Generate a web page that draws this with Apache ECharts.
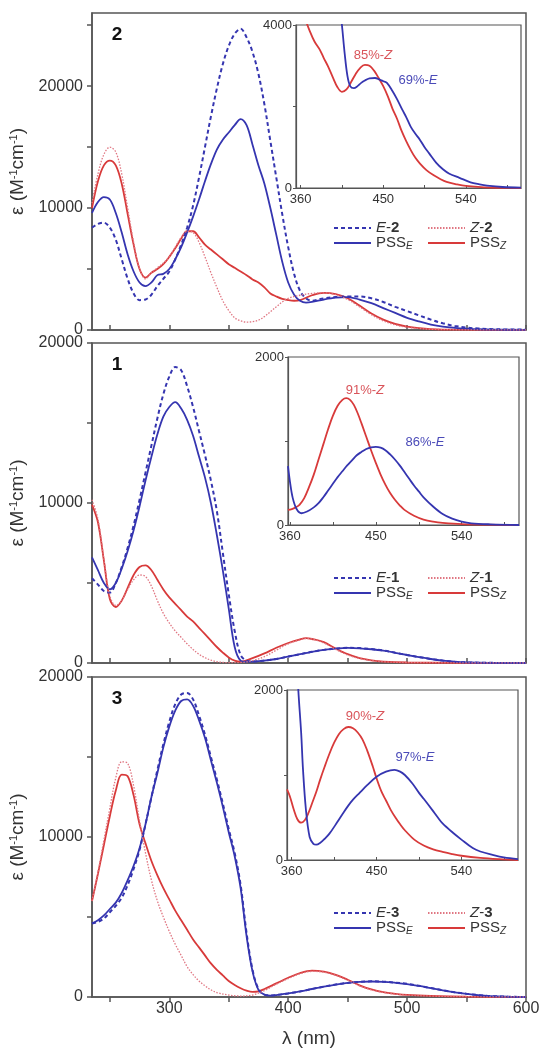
<!DOCTYPE html>
<html>
<head>
<meta charset="utf-8">
<script src="https://cdn.jsdelivr.net/npm/echarts@6/dist/echarts.min.js"></script>
<style>
html, body { margin: 0; padding: 0; background: #fff; }
#chart { width: 539px; height: 1051px; }
</style>
</head>
<body>
<div id="chart"></div>
<script>
// ---- data: [wavelength (nm), epsilon (M-1 cm-1)] ----

// compound 2 (top panel)
const e2 = [[235, 8400], [240, 8700], [245, 8800], [250, 8400], [255, 7400], [260, 5800], [265, 4200], [270, 3000], [275, 2450], [280, 2500], [285, 2900], [290, 3600], [295, 4200], [300, 4800], [305, 5800], [310, 7000], [315, 8400], [320, 10200], [325, 12500], [330, 15000], [335, 17500], [340, 19800], [345, 21800], [350, 23300], [355, 24300], [360, 24700], [365, 24000], [370, 22800], [375, 21000], [380, 18500], [385, 15500], [390, 12500], [395, 9500], [400, 6800], [405, 4600], [410, 3200], [415, 2600], [420, 2400], [430, 2600], [440, 2700], [450, 2750], [460, 2750], [470, 2600], [480, 2300], [490, 1900], [500, 1550], [510, 1200], [520, 850], [530, 550], [540, 330], [550, 200], [560, 120], [575, 60], [600, 30]];
const z2 = [[235, 10400], [240, 12800], [245, 14400], [250, 15000], [255, 14600], [260, 12800], [265, 10000], [270, 7200], [275, 5000], [280, 4200], [285, 4700], [290, 5100], [295, 5500], [300, 6000], [305, 6800], [310, 7600], [315, 8100], [320, 8000], [325, 7200], [330, 6000], [335, 4700], [340, 3500], [345, 2400], [350, 1600], [355, 1000], [360, 750], [365, 650], [370, 680], [375, 800], [380, 1100], [385, 1500], [390, 1900], [395, 2300], [400, 2600], [410, 2850], [420, 3000], [430, 3050], [440, 2900], [450, 2500], [460, 1900], [470, 1250], [480, 750], [490, 420], [500, 220], [510, 120], [520, 60], [540, 20], [600, 0]];
const psse2 = [[235, 9600], [240, 10500], [245, 10900], [250, 10700], [255, 9600], [260, 8000], [265, 6200], [270, 4800], [275, 3900], [280, 3600], [285, 3900], [290, 4500], [295, 4600], [300, 5000], [305, 5800], [310, 6800], [315, 8000], [320, 9300], [325, 10700], [330, 12200], [335, 13600], [340, 14800], [345, 15600], [350, 16200], [355, 16800], [360, 17300], [365, 16800], [370, 15200], [375, 13500], [380, 12000], [385, 10000], [390, 7800], [395, 5600], [400, 3900], [405, 2900], [410, 2400], [415, 2250], [420, 2300], [430, 2500], [440, 2650], [450, 2700], [460, 2500], [470, 2200], [480, 1800], [490, 1400], [500, 1000], [510, 700], [520, 450], [530, 280], [540, 180], [550, 110], [560, 60], [575, 30], [600, 10]];
const pssz2 = [[235, 10000], [240, 12200], [245, 13500], [250, 13900], [255, 13500], [260, 12000], [265, 9500], [270, 7000], [275, 5000], [280, 4300], [285, 4700], [290, 5000], [295, 5400], [300, 6000], [305, 6700], [310, 7500], [315, 8100], [320, 8100], [325, 7600], [330, 7000], [335, 6600], [340, 6200], [345, 5800], [350, 5400], [355, 5100], [360, 4800], [365, 4500], [370, 4150], [375, 3900], [380, 3500], [385, 3000], [390, 2750], [395, 2550], [400, 2450], [405, 2400], [410, 2450], [420, 2850], [430, 3050], [440, 2950], [450, 2600], [460, 2000], [470, 1350], [480, 850], [490, 500], [500, 280], [510, 150], [520, 80], [540, 30], [600, 0]];
const psse2In = [[402, 4600], [405, 4000], [408, 3300], [411, 2750], [414, 2500], [418, 2450], [422, 2500], [426, 2580], [430, 2640], [435, 2690], [441, 2700], [446, 2660], [450, 2620], [454, 2580], [460, 2380], [465, 2180], [471, 1910], [475, 1740], [480, 1500], [485, 1330], [490, 1180], [495, 1000], [500, 850], [508, 610], [515, 460], [522, 350], [533, 250], [545, 140], [555, 90], [563, 60], [580, 25], [600, 10]];
const pssz2In = [[360, 4500], [365, 4150], [370, 3850], [375, 3600], [381, 3390], [385, 3200], [390, 2980], [395, 2720], [400, 2480], [405, 2360], [410, 2420], [415, 2600], [420, 2800], [425, 2950], [430, 3020], [435, 3000], [440, 2880], [445, 2700], [450, 2500], [455, 2250], [460, 1950], [465, 1700], [470, 1400], [475, 1150], [480, 930], [485, 740], [490, 600], [497, 440], [505, 310], [512, 220], [519, 150], [530, 90], [540, 50], [560, 15], [580, 5], [600, 0]];

// compound 1 (middle panel)
const e1 = [[235, 5300], [240, 4900], [245, 4500], [250, 4400], [255, 5000], [260, 6000], [265, 7200], [270, 8600], [275, 10200], [280, 11900], [285, 13600], [290, 15300], [295, 16800], [300, 17900], [305, 18500], [310, 18300], [315, 17300], [320, 16000], [325, 14500], [330, 13000], [335, 11400], [340, 9500], [345, 6900], [350, 4300], [355, 2000], [360, 500], [365, 150], [370, 100], [380, 150], [390, 250], [400, 400], [410, 550], [420, 700], [430, 820], [440, 900], [450, 950], [460, 930], [470, 870], [480, 780], [490, 640], [500, 500], [510, 370], [520, 250], [530, 150], [540, 80], [550, 40], [570, 10], [600, 0]];
const z1 = [[235, 10200], [240, 9000], [245, 6500], [250, 4200], [255, 3600], [260, 3900], [265, 4600], [270, 5200], [275, 5500], [280, 5400], [285, 4800], [290, 3900], [295, 3100], [300, 2500], [305, 2000], [310, 1600], [315, 1200], [320, 850], [325, 550], [330, 330], [335, 180], [340, 80], [350, 20], [360, 30], [370, 150], [380, 400], [390, 800], [400, 1200], [410, 1450], [415, 1530], [420, 1500], [430, 1250], [440, 850], [450, 500], [460, 280], [470, 150], [480, 80], [500, 30], [600, 0]];
const psse1 = [[235, 6600], [240, 5800], [245, 5000], [250, 4600], [255, 5000], [260, 5900], [265, 7000], [270, 8300], [275, 9800], [280, 11400], [285, 12900], [290, 14300], [295, 15400], [300, 16000], [305, 16300], [310, 15900], [315, 15200], [320, 14200], [325, 12900], [330, 11600], [335, 10000], [340, 8000], [345, 5800], [350, 3400], [355, 1000], [360, 150], [365, 80], [370, 80], [380, 150], [390, 250], [400, 400], [410, 550], [420, 700], [430, 820], [440, 900], [450, 940], [460, 920], [470, 860], [480, 770], [490, 640], [500, 500], [510, 370], [520, 250], [530, 150], [540, 80], [550, 40], [570, 10], [600, 0]];
const pssz1 = [[235, 9900], [240, 8800], [245, 6400], [250, 4000], [255, 3500], [260, 3900], [265, 4700], [270, 5500], [275, 6000], [280, 6100], [285, 5800], [290, 5200], [295, 4600], [300, 4100], [305, 3700], [310, 3300], [315, 2900], [320, 2600], [325, 2200], [330, 1800], [335, 1400], [340, 1000], [345, 650], [350, 350], [355, 150], [360, 80], [370, 300], [380, 600], [390, 950], [400, 1250], [410, 1480], [415, 1550], [420, 1500], [430, 1300], [440, 900], [450, 550], [460, 300], [470, 160], [480, 80], [500, 30], [600, 0]];
const psse1In = [[358, 700], [360, 520], [363, 320], [367, 190], [372, 140], [378, 160], [385, 210], [390, 260], [395, 330], [400, 410], [405, 490], [410, 570], [415, 640], [420, 710], [425, 770], [430, 830], [435, 870], [440, 905], [445, 925], [450, 930], [455, 920], [460, 890], [465, 840], [470, 780], [475, 710], [480, 630], [485, 550], [490, 470], [495, 400], [500, 330], [510, 220], [520, 130], [530, 75], [540, 40], [550, 20], [570, 8], [600, 0]];
const pssz1In = [[358, 180], [362, 190], [366, 210], [370, 240], [375, 320], [380, 450], [385, 600], [390, 780], [395, 960], [400, 1140], [405, 1300], [410, 1420], [415, 1490], [419, 1510], [423, 1490], [427, 1430], [431, 1330], [435, 1210], [440, 1050], [445, 890], [450, 740], [455, 600], [460, 480], [465, 380], [470, 300], [475, 235], [480, 180], [490, 110], [500, 65], [510, 40], [520, 25], [540, 10], [600, 0]];

// compound 3 (bottom panel)
const e3 = [[235, 4600], [240, 4700], [245, 4900], [250, 5300], [255, 5700], [260, 6200], [265, 7000], [270, 8000], [275, 9200], [280, 10800], [285, 12500], [290, 14200], [295, 15800], [300, 17200], [305, 18300], [310, 18900], [315, 19000], [320, 18600], [325, 17600], [330, 16400], [335, 15000], [340, 13600], [345, 12100], [350, 10500], [355, 9000], [360, 7000], [365, 4000], [370, 1700], [375, 500], [380, 150], [385, 100], [390, 120], [400, 220], [410, 350], [420, 500], [430, 650], [440, 780], [450, 880], [460, 940], [470, 980], [480, 960], [490, 900], [500, 820], [510, 700], [520, 560], [530, 420], [540, 300], [550, 200], [560, 120], [570, 60], [585, 20], [600, 0]];
const z3 = [[235, 6000], [240, 7800], [245, 9800], [250, 11800], [255, 13700], [260, 14700], [265, 14600], [270, 13200], [275, 11000], [280, 9000], [285, 7300], [290, 6000], [295, 5000], [300, 4100], [305, 3300], [310, 2600], [315, 1900], [320, 1400], [325, 1000], [330, 700], [335, 450], [340, 280], [350, 120], [360, 60], [370, 120], [380, 400], [390, 800], [400, 1150], [410, 1450], [420, 1600], [430, 1550], [440, 1350], [450, 1050], [460, 700], [470, 450], [480, 280], [490, 180], [500, 120], [520, 60], [550, 20], [600, 0]];
const psse3 = [[235, 4600], [240, 4800], [245, 5100], [250, 5500], [255, 5900], [260, 6500], [265, 7300], [270, 8200], [275, 9300], [280, 10800], [285, 12500], [290, 14000], [295, 15600], [300, 16900], [305, 17900], [310, 18500], [315, 18600], [320, 18200], [325, 17300], [330, 16200], [335, 14800], [340, 13400], [345, 11900], [350, 10300], [355, 8800], [360, 6800], [365, 3800], [370, 1600], [375, 450], [380, 150], [385, 90], [390, 120], [400, 220], [410, 350], [420, 500], [430, 650], [440, 780], [450, 880], [460, 940], [470, 970], [480, 950], [490, 890], [500, 810], [510, 690], [520, 550], [530, 410], [540, 290], [550, 190], [560, 110], [570, 60], [585, 20], [600, 0]];
const pssz3 = [[235, 6000], [240, 7700], [245, 9500], [250, 11300], [255, 12900], [260, 13900], [265, 13800], [270, 12600], [275, 10800], [280, 9600], [285, 8500], [290, 7600], [295, 6800], [300, 6100], [305, 5400], [310, 4800], [315, 4200], [320, 3600], [325, 3100], [330, 2600], [335, 2100], [340, 1700], [345, 1350], [350, 1000], [355, 750], [360, 550], [365, 400], [370, 320], [375, 350], [380, 500], [390, 850], [400, 1200], [410, 1500], [420, 1650], [430, 1580], [440, 1380], [450, 1080], [460, 730], [470, 470], [480, 300], [490, 200], [500, 130], [520, 70], [550, 25], [600, 0]];
const psse3In = [[365, 2500], [367, 2000], [370, 1500], [372, 1060], [375, 600], [379, 270], [383, 190], [386, 180], [390, 200], [395, 250], [400, 310], [408, 440], [415, 560], [420, 640], [425, 710], [432, 790], [440, 880], [450, 980], [460, 1040], [469, 1060], [475, 1040], [480, 1000], [488, 900], [495, 790], [500, 720], [509, 590], [515, 500], [520, 430], [531, 320], [540, 240], [552, 140], [560, 100], [573, 60], [585, 30], [600, 10]];
const pssz3In = [[355, 830], [358, 750], [362, 600], [366, 480], [370, 440], [374, 470], [378, 560], [382, 680], [386, 800], [390, 940], [395, 1100], [400, 1250], [405, 1380], [410, 1480], [415, 1540], [420, 1565], [425, 1550], [430, 1500], [435, 1420], [440, 1290], [446, 1100], [450, 960], [455, 810], [460, 700], [465, 590], [470, 500], [475, 420], [480, 350], [490, 240], [500, 170], [510, 125], [520, 95], [530, 70], [540, 50], [560, 25], [580, 10], [600, 0]];

// axis ticks
const mainXTicks = [250, 300, 350, 400, 450, 500, 550, 600];
const mainXLabels = [300, 400, 500, 600];
const insetXTicks = [360, 405, 450, 495, 540, 585];
const insetXLabels = [360, 450, 540];

// ---- styles ----
const BLUE = '#3535b0';
const RED = '#d83a3a';
const PINK = '#e07682';
const AXIS = '#555';
const TEXT = '#333';
const FONT = '"Liberation Sans", Arial, sans-serif';

const lineStyles = {
    E: { color: BLUE, width: 2, type: [4, 3] },
    Z: { color: PINK, width: 1.3, type: [1.5, 1.5] },
    PE: { color: BLUE, width: 1.8, type: 'solid' },
    PZ: { color: RED, width: 1.8, type: 'solid' }
};

const plain = v => String(v); // no thousands separator

// one block per compound: main grid, inset grid, legend spots
const panels = [
    {
        num: '2', main: { top: 13, height: 317 }, ymax: 26000,
        yTicks: [0, 5000, 10000, 15000, 20000, 25000], yLabels: [0, 10000, 20000],
        tickInside: true, showX: false,
        e: e2, z: z2, pe: psse2, pz: pssz2,
        inset: { left: 296, top: 25, width: 225, height: 163, xmin: 355, ymax: 4000, yTicks: [0, 2000, 4000], yLabels: [0, 4000] },
        pe_in: psse2In, pz_in: pssz2In,
        noteZ: ['85%-', 373, 55], noteE: ['69%-', 418, 80],
        legendTop: 228
    },
    {
        num: '1', main: { top: 343, height: 320 }, ymax: 20000,
        yTicks: [0, 5000, 10000, 15000, 20000], yLabels: [0, 10000, 20000],
        tickInside: true, showX: false,
        e: e1, z: z1, pe: psse1, pz: pssz1,
        inset: { left: 288, top: 357, width: 231, height: 168, xmin: 358, ymax: 2000, yTicks: [0, 1000, 2000], yLabels: [0, 2000] },
        pe_in: psse1In, pz_in: pssz1In,
        noteZ: ['91%-', 365, 390], noteE: ['86%-', 425, 442],
        legendTop: 578
    },
    {
        num: '3', main: { top: 677, height: 320 }, ymax: 20000,
        yTicks: [0, 5000, 10000, 15000, 20000], yLabels: [0, 10000, 20000],
        tickInside: false, showX: true,
        e: e3, z: z3, pe: psse3, pz: pssz3,
        inset: { left: 287, top: 690, width: 231, height: 170, xmin: 355, ymax: 2000, yTicks: [0, 1000, 2000], yLabels: [0, 2000] },
        pe_in: psse3In, pz_in: pssz3In,
        noteZ: ['90%-', 365, 716], noteE: ['97%-', 415, 757],
        legendTop: 913
    }
];

const legendText = {};
const grid = [], xAxis = [], yAxis = [], series = [], legend = [], graphic = [];

function addLine(name, data, idx, kind) {
    series.push({
        name: name,
        type: 'line',
        xAxisIndex: idx,
        yAxisIndex: idx,
        data: data,
        symbol: 'none',
        smooth: 0.35,
        clip: true,
        silent: true,
        lineStyle: lineStyles[kind],
        itemStyle: { color: lineStyles[kind].color },
        z: kind === 'Z' ? 3 : 2
    });
}

function addLegend(name, left, top) {
    legend.push({
        data: [name],
        left: left,
        top: top,
        itemWidth: 37,
        itemHeight: 14,
        selectedMode: false,
        padding: 0,
        itemStyle: { opacity: 0 },  // line only, no marker dot
        formatter: n => legendText[n],
        textStyle: {
            fontSize: 15, fontFamily: FONT, color: TEXT, lineHeight: 16,
            rich: {
                i: { fontStyle: 'italic', fontSize: 15, fontFamily: FONT, color: TEXT },
                b: { fontWeight: 'bold', fontSize: 15, fontFamily: FONT, color: TEXT },
                s: { fontStyle: 'italic', fontSize: 10, fontFamily: FONT, color: TEXT, padding: [7, 0, 0, 0] }
            }
        }
    });
}

panels.forEach((p, k) => {
    const mi = grid.length;
    // main plot
    grid.push({ left: 92, width: 434, top: p.main.top, height: p.main.height, show: true, borderColor: AXIS, borderWidth: 1.5, outerBoundsMode: 'none' });
    xAxis.push({
        type: 'value', gridIndex: mi, min: 235, max: 600,
        name: p.showX ? 'λ (nm)' : '', nameLocation: 'middle', nameGap: 32,
        nameTextStyle: { fontSize: 19, fontFamily: FONT, color: TEXT },
        axisLine: { show: true, lineStyle: { color: AXIS, width: 1.5 } },
        axisTick: { show: true, inside: p.tickInside, length: 5, customValues: mainXTicks, lineStyle: { color: AXIS, width: 1.5 } },
        axisLabel: { show: p.showX, customValues: mainXLabels, formatter: plain, fontSize: 16, fontFamily: FONT, color: TEXT, margin: 4 },
        splitLine: { show: false }
    });
    yAxis.push({
        type: 'value', gridIndex: mi, min: 0, max: p.ymax,
        name: 'ε (M{sup|-1}cm{sup|-1})', nameLocation: 'middle', nameRotate: 90, nameGap: 51,
        nameTextStyle: {
            fontSize: 19, fontFamily: FONT, color: TEXT,
            rich: { sup: { fontSize: 11, fontFamily: FONT, color: TEXT, padding: [0, 0, 9, 0] } }
        },
        axisLine: { show: true, lineStyle: { color: AXIS, width: 1.5 } },
        axisTick: { show: true, length: 5, customValues: p.yTicks, lineStyle: { color: AXIS, width: 1.5 } },
        axisLabel: { customValues: p.yLabels, formatter: plain, fontSize: 16, fontFamily: FONT, color: TEXT, margin: 9 },
        splitLine: { show: false }
    });

    const nE = 'E-' + p.num, nZ = 'Z-' + p.num, nPE = 'PSSE-' + p.num, nPZ = 'PSSZ-' + p.num;
    legendText[nE] = '{i|E}-{b|' + p.num + '}';
    legendText[nZ] = '{i|Z}-{b|' + p.num + '}';
    legendText[nPE] = 'PSS{s|E}';
    legendText[nPZ] = 'PSS{s|Z}';

    addLine(nPZ, p.pz, mi, 'PZ');
    addLine(nPE, p.pe, mi, 'PE');
    addLine(nZ, p.z, mi, 'Z');
    addLine(nE, p.e, mi, 'E');

    addLegend(nE, 333, p.legendTop - 8);
    addLegend(nPE, 333, p.legendTop + 7);
    addLegend(nZ, 427, p.legendTop - 8);
    addLegend(nPZ, 427, p.legendTop + 7);

    // inset
    const ii = grid.length;
    const s = p.inset;
    grid.push({ left: s.left, top: s.top, width: s.width, height: s.height, show: true, backgroundColor: '#fff', borderColor: AXIS, borderWidth: 1.2, outerBoundsMode: 'none' });
    xAxis.push({
        type: 'value', gridIndex: ii, min: s.xmin, max: 600,
        axisLine: { show: true, lineStyle: { color: AXIS, width: 1.2 } },
        axisTick: { show: true, inside: true, length: 3, customValues: insetXTicks, lineStyle: { color: AXIS } },
        axisLabel: { customValues: insetXLabels, formatter: plain, fontSize: 13, fontFamily: FONT, color: TEXT, margin: 5 },
        splitLine: { show: false }
    });
    yAxis.push({
        type: 'value', gridIndex: ii, min: 0, max: s.ymax,
        axisLine: { show: true, lineStyle: { color: AXIS, width: 1.2 } },
        axisTick: { show: true, length: 3, customValues: s.yTicks, lineStyle: { color: AXIS } },
        axisLabel: { customValues: s.yLabels, formatter: plain, fontSize: 13, fontFamily: FONT, color: TEXT, margin: 4 },
        splitLine: { show: false }
    });
    addLine(nPZ + ' inset', p.pz_in, ii, 'PZ');
    addLine(nPE + ' inset', p.pe_in, ii, 'PE');

    // compound number and isomer ratios
    graphic.push({ type: 'text', x: 117, y: p.main.top + 22, style: { text: p.num, font: 'bold 19px ' + FONT, fill: '#111', align: 'center', verticalAlign: 'middle' } });
    graphic.push({ type: 'text', x: p.noteZ[1], y: p.noteZ[2], style: { text: p.noteZ[0] + '{i|Z}', font: '13px ' + FONT, fill: '#d9545a', align: 'center', verticalAlign: 'middle', rich: { i: { fontStyle: 'italic', fontSize: 13, fontFamily: FONT, fill: '#d9545a' } } } });
    graphic.push({ type: 'text', x: p.noteE[1], y: p.noteE[2], style: { text: p.noteE[0] + '{i|E}', font: '13px ' + FONT, fill: '#4a4ab8', align: 'center', verticalAlign: 'middle', rich: { i: { fontStyle: 'italic', fontSize: 13, fontFamily: FONT, fill: '#4a4ab8' } } } });
});

var myChart = echarts.init(document.getElementById('chart'));
myChart.setOption({
    animation: false,
    backgroundColor: '#fff',
    grid: grid,
    xAxis: xAxis,
    yAxis: yAxis,
    legend: legend,
    graphic: graphic,
    series: series
});
</script>
</body>
</html>
